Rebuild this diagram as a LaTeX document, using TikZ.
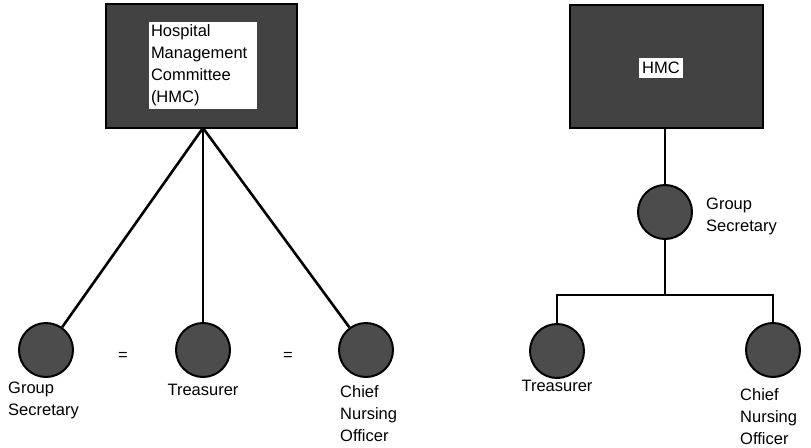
\documentclass[tikz,border=0pt]{standalone}
\usepackage{fontspec}
\setmainfont{Liberation Sans}
\usepackage{tikz}

\begin{document}
\begin{tikzpicture}[x=1pt, y=-1pt,
	font=\fontsize{16.5}{22}\selectfont,
	darkbox/.style={draw=black, fill=black!74, line width=1.5pt, inner sep=0pt},
	labelbox/.style={fill=white, inner sep=0pt, align=left},
	member/.style={shape=circle, draw=black, fill=black!70, line width=2pt, minimum size=54pt, inner sep=0pt},
	caption/.style={align=left, inner sep=0pt},
	link/.style={line width=2.6pt}]

	\useasboundingbox (0,0) rectangle (811,447);

	% left: committee
	\node[darkbox, minimum width=191pt, minimum height=124pt] (hmcA) at (201.5, 66) {};
	\node[labelbox, minimum width=108pt, minimum height=87pt, text width=104pt] (hmcAtext) at (203, 65.5)
		{Hospital\\Management\\Committee\\(HMC)};
	\coordinate (apex) at (203, 128);

	\node[member] (secA) at (46, 350)  {};
	\node[member] (treA) at (203, 350) {};
	\node[member] (cnoA) at (366, 350) {};

	\node (eqA) at (123, 356) {=};
	\node (eqB) at (288, 356) {=};

	\node[caption, anchor=north west] (secAtext) at (8, 382)   {Group\\Secretary};
	\node[caption] (treAtext) at (203, 390)                    {Treasurer};
	\node[caption, anchor=north west] (cnoAtext) at (340, 385) {Chief\\Nursing\\Officer};

	\path[-, link] (apex) edge (secA);
	\path[-, link] (apex) edge (treA);
	\path[-, link] (apex) edge (cnoA);

	% right: hierarchy
	\node[darkbox, minimum width=193pt, minimum height=123pt] (hmcB) at (666.5, 66.5) {};
	\node[labelbox, minimum width=44pt, minimum height=20pt] (hmcBtext) at (661, 67.5) {HMC};

	\node[member] (secB) at (665, 212) {};
	\node[member] (treB) at (557, 351) {};
	\node[member] (cnoB) at (773, 350) {};
	\coordinate (bar) at (665, 295);

	\node[caption, anchor=north west] (secBtext) at (706, 198) {Group\\Secretary};
	\node[caption] (treBtext) at (557, 386)                    {Treasurer};
	\node[caption, anchor=north west] (cnoBtext) at (740, 388) {Chief\\Nursing\\Officer};

	\draw[link] (hmcB.south -| secB) -- (secB);
	\draw[link] (secB) -- (bar);
	\draw[link] (treB) |- (bar) -| (cnoB);

\end{tikzpicture}
\end{document}
